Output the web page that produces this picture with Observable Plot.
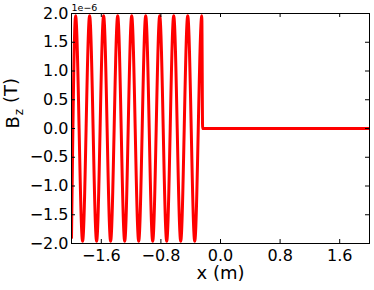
<!DOCTYPE html>
<html>
<head>
<meta charset="utf-8">
<script src="https://cdn.jsdelivr.net/npm/d3@7"></script>
<script src="https://cdn.jsdelivr.net/npm/@observablehq/plot@0.6"></script>
<style>
  html, body { margin: 0; padding: 0; background: #fff; }
</style>
</head>
<body>
<div id="chart"></div>
<script>
// x positions (m) of the sampled wave: start, alternating peaks/troughs, drop, end
const xValues = [-2.0, -1.945, -1.851, -1.757, -1.663, -1.569, -1.475, -1.380, -1.286,
  -1.192, -1.098, -1.004, -0.910, -0.816, -0.722, -0.628, -0.534, -0.440, -0.346,
  -0.251, -0.240, 2.0];
// Bz values in units of 1e-6 T
const bzValues = [-1.9, 1.96, -1.96, 1.96, -1.96, 1.96, -1.96, 1.96, -1.96,
  1.96, -1.96, 1.96, -1.96, 1.96, -1.96, 1.96, -1.96, 1.96, -1.96,
  1.96, 0.0, 0.0];
const xTicks = [-1.6, -0.8, 0.0, 0.8, 1.6];
const yTicks = [-2.0, -1.5, -1.0, -0.5, 0.0, 0.5, 1.0, 1.5, 2.0];
const xLabel = "x (m)";
const yLabel = "B_z (T)";
const offsetLabel = "1e\u22126";

const data = xValues.map((x, i) => ({x, y: bzValues[i]}));
const fmt = d => d.toFixed(1).replace("-", "\u2212");

const W = 374, H = 290, mL = 71, mR = 5, mT = 13, mB = 47;
const fh = H - mT - mB, fw = W - mL - mR, tk = 4;

const chart = Plot.plot({
  width: W, height: H,
  marginLeft: mL, marginRight: mR, marginTop: mT, marginBottom: mB,
  style: {fontFamily: "DejaVu Sans", fontSize: "16px", color: "black", background: "white"},
  x: {domain: [-2, 2]},
  y: {domain: [-2, 2]},
  marks: [
    Plot.line(data, {x: "x", y: "y", stroke: "#ff0000", strokeWidth: 3, curve: "monotone-x", clip: true}),
    Plot.frame({stroke: "black", strokeWidth: 1}),
    Plot.tickX(xTicks, {x: d => d, insetTop: fh - tk, stroke: "black"}),
    Plot.tickX(xTicks, {x: d => d, insetBottom: fh - tk, stroke: "black"}),
    Plot.tickY(yTicks, {y: d => d, insetRight: fw - tk, stroke: "black"}),
    Plot.tickY(yTicks, {y: d => d, insetLeft: fw - tk, stroke: "black"}),
    Plot.axisX({ticks: xTicks, tickSize: 0, tickPadding: 6, tickFormat: fmt, label: null, fontSize: 16}),
    Plot.axisY({ticks: yTicks, tickSize: 0, tickPadding: 3, tickFormat: fmt, label: null, fontSize: 16}),
    Plot.text([xLabel], {frameAnchor: "bottom", lineAnchor: "middle", dy: 29.5, fontSize: 18, fill: "black"}),
    Plot.text([yLabel], {frameAnchor: "left", lineAnchor: "middle", dx: -58, rotate: -90, fontSize: 18, fill: "black"}),
    Plot.text([offsetLabel], {frameAnchor: "top-left", lineAnchor: "middle", dy: -6, dx: 0, textAnchor: "start", fontSize: 9.5, fill: "black"})
  ]
});
document.getElementById("chart").appendChild(chart);

// render subscript in the y label
d3.select(chart).selectAll("text").each(function() {
  if (this.textContent === yLabel) {
    const t = d3.select(this);
    t.text(null);
    t.append("tspan").text("B");
    t.append("tspan").attr("font-size", 12).attr("dy", "0.3em").attr("dx", "1").text("z");
    t.append("tspan").attr("dy", "-0.3em").text(" (T)");
  }
});
</script>
</body>
</html>
